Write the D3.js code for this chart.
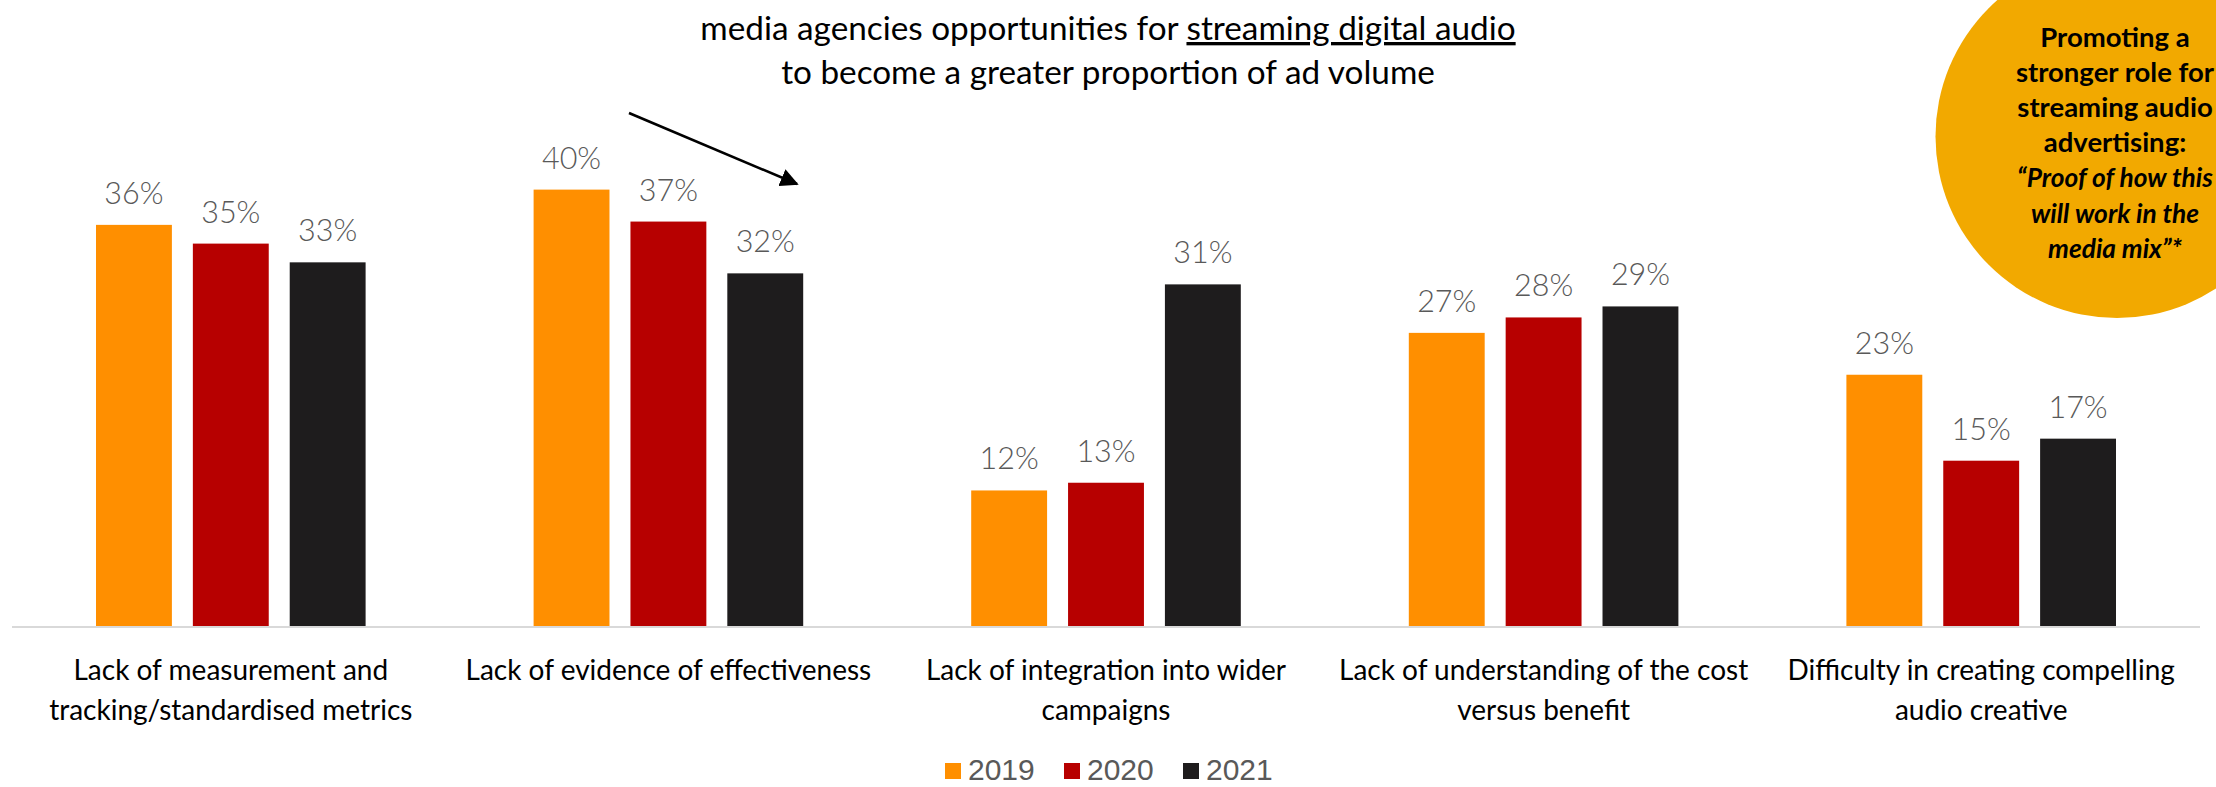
<!DOCTYPE html>
<html><head><meta charset="utf-8">
<script src="https://cdn.jsdelivr.net/npm/d3@7"></script>
<style>
html,body{margin:0;padding:0;background:#fff;}
svg{display:block;}
</style></head>
<body>
<svg id="chart" width="2216" height="787"></svg>
<script>
const categories = [
  ["Lack of measurement and", "tracking/standardised metrics"],
  ["Lack of evidence of effectiveness"],
  ["Lack of integration into wider", "campaigns"],
  ["Lack of understanding of the cost", "versus benefit"],
  ["Difficulty in creating compelling", "audio creative"]
];
const years = ["2019", "2020", "2021"];
const values2019 = [36.4, 39.6, 12.3, 26.6, 22.8];
const values2020 = [34.7, 36.7, 13.0, 28.0, 15.0];
const values2021 = [33.0, 32.0, 31.0, 29.0, 17.0];
const colors = ["#FF8F00", "#B70000", "#1E1C1D"];
const titleLine1 = "media agencies opportunities for ";
const titleUnderlined = "streaming digital audio";
const titleLine2 = "to become a greater proportion of ad volume";
const bubbleLines = [
  ["Promoting a", false],
  ["stronger role for", false],
  ["streaming audio", false],
  ["advertising:", false],
  ["\u201CProof of how this", true],
  ["will work in the", true],
  ["media mix\u201D*", true]
];

const series = [values2019, values2020, values2021];
const svg = d3.select("#chart");
const FONT = "Lato, 'Noto Sans', sans-serif";

const catIdx = d3.range(categories.length);
const x0 = d3.scaleBand().domain(catIdx).range([12, 2200]).paddingInner(0).paddingOuter(0);
const x1 = d3.scaleBand().domain(years).range([84, x0.bandwidth() - 84]).paddingInner(0.2165).paddingOuter(0);
const y = d3.scaleLinear().domain([0, 50]).range([626, 75]);

// bubble
const bubble = svg.append("g");
bubble.append("circle").attr("cx", 2117).attr("cy", 136.5).attr("r", 181.5).attr("fill", "#F2A900");
bubble.selectAll("text").data(bubbleLines).join("text")
  .attr("x", 2115).attr("y", (d, i) => 47 + i * 35.1)
  .attr("text-anchor", "middle")
  .attr("font-family", FONT).attr("font-weight", 700)
  .attr("font-style", d => d[1] ? "italic" : "normal")
  .attr("font-size", d => d[1] ? 26.3 : 27.5).attr("fill", "#000")
  .text(d => d[0]);

// title
const t1 = svg.append("text").attr("x", 1108).attr("y", 40).attr("text-anchor", "middle")
  .attr("font-family", FONT).attr("font-size", 33.3).attr("fill", "#000");
t1.append("tspan").text(titleLine1);
t1.append("tspan").attr("text-decoration", "underline").text(titleUnderlined);
svg.append("text").attr("x", 1108).attr("y", 84).attr("text-anchor", "middle")
  .attr("font-family", FONT).attr("font-size", 33.3).attr("fill", "#000").text(titleLine2);

// arrow
const defs = svg.append("defs");
defs.append("marker").attr("id", "arrowhead").attr("viewBox", "0 0 10 10")
  .attr("refX", 9).attr("refY", 5).attr("markerWidth", 7).attr("markerHeight", 7)
  .attr("markerUnits", "strokeWidth").attr("orient", "auto")
  .append("path").attr("d", "M0,0 L10,5 L0,10 Z").attr("fill", "#000");
svg.append("line").attr("x1", 629).attr("y1", 113).attr("x2", 797).attr("y2", 184)
  .attr("stroke", "#000").attr("stroke-width", 2.6).attr("marker-end", "url(#arrowhead)");

// axis baseline
svg.append("line").attr("x1", 12).attr("x2", 2200).attr("y1", 627).attr("y2", 627)
  .attr("stroke", "#D9D9D9").attr("stroke-width", 2);

// bars
const groups = svg.append("g").selectAll("g").data(catIdx).join("g")
  .attr("transform", i => `translate(${x0(i)},0)`);
const barData = i => years.map((yr, k) => ({ yr, k, v: series[k][i] }));
groups.selectAll("rect").data(barData).join("rect")
  .attr("x", d => x1(d.yr)).attr("width", x1.bandwidth())
  .attr("y", d => y(d.v)).attr("height", d => y(0) - y(d.v))
  .attr("fill", d => colors[d.k]);
groups.selectAll("text.val").data(barData).join("text").attr("class", "val")
  .attr("x", d => x1(d.yr) + x1.bandwidth() / 2)
  .attr("y", d => y(d.v) - 21)
  .attr("text-anchor", "middle").attr("font-family", FONT).attr("font-weight", 300)
  .attr("font-size", 30.5).attr("fill", "#595959")
  .text(d => Math.round(d.v) + "%");

// category labels
groups.each(function (i) {
  const g = d3.select(this);
  categories[i].forEach((line, j) => {
    g.append("text").attr("x", x0.bandwidth() / 2).attr("y", 680 + j * 40)
      .attr("text-anchor", "middle").attr("font-family", FONT)
      .attr("font-size", 28).attr("fill", "#000").text(line);
  });
});

// legend
const legendX = d3.scalePoint().domain(years).range([945, 1183]);
const leg = svg.append("g").selectAll("g").data(years).join("g")
  .attr("transform", d => `translate(${legendX(d)},0)`);
leg.append("rect").attr("x", 0).attr("y", 763).attr("width", 16).attr("height", 16)
  .attr("fill", (d, i) => colors[i]);
leg.append("text").attr("x", 23).attr("y", 780)
  .attr("font-family", "'Liberation Sans', Arial, sans-serif").attr("font-size", 30)
  .attr("fill", "#595959").text(d => d);
</script>
</body></html>
